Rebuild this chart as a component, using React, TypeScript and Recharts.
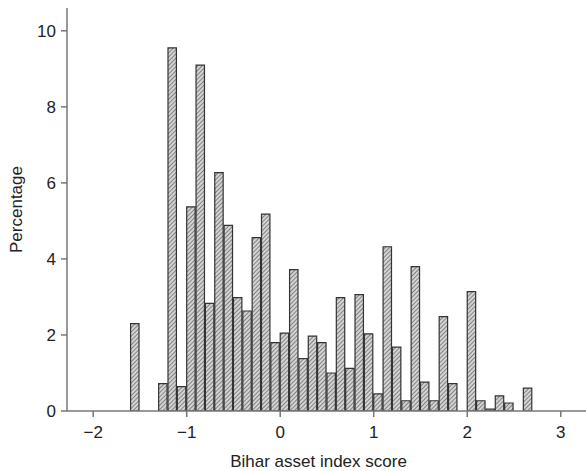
import { BarChart, Bar, XAxis, YAxis } from "recharts";

// bin left edges (width 0.1) and percentage per bin
const binStarts = [
    -1.6, -1.5, -1.4, -1.3, -1.2, -1.1, -1.0, -0.9, -0.8, -0.7, -0.6, -0.5, -0.4, -0.3, -0.2, -0.1,
    0.0, 0.1, 0.2, 0.3, 0.4, 0.5, 0.6, 0.7, 0.8, 0.9, 1.0, 1.1, 1.2, 1.3, 1.4, 1.5, 1.6, 1.7, 1.8,
    1.9, 2.0, 2.1, 2.2, 2.3, 2.4, 2.5, 2.6, 2.7,
];
const percentages = [
    2.3, 0, 0, 0.72, 9.55, 0.64, 5.37, 9.1, 2.83, 6.27, 4.88, 2.98, 2.63, 4.56, 5.18, 1.8,
    2.05, 3.72, 1.38, 1.97, 1.8, 1.0, 2.98, 1.12, 3.06, 2.03, 0.45, 4.32, 1.68, 0.27, 3.8, 0.76,
    0.27, 2.48, 0.72, 0, 3.14, 0.27, 0.05, 0.4, 0.21, 0, 0.6, 0,
];
const xTicks = [-2, -1, 0, 1, 2, 3];
const yTicks = [0, 2, 4, 6, 8, 10];

const binWidth = 0.1;
const data = binStarts.map((s, i) => ({ mid: s + binWidth / 2, pct: percentages[i] }));

const W = 586;
const H = 471;
const yAxisW = 67;
const xAxisH = 60;
const xDomain: [number, number] = [-2.28, 3.27];
const barPx = ((W - yAxisW) / (xDomain[1] - xDomain[0])) * binWidth;

const font = "'Liberation Sans', Arial, Helvetica, sans-serif";
const tickStyle = { fill: "#222", fontSize: 17, fontFamily: font };

export default function App() {
    return (
        <div style={{ width: W, height: H }}>
            <style>{`body{margin:0}`}</style>
            <BarChart width={W} height={H} data={data} margin={{ top: 8, right: 0, bottom: 0, left: 0 }} barGap={0} barCategoryGap={0}>
                <defs>
                    <pattern id="hatch" patternUnits="userSpaceOnUse" width="3" height="3" patternTransform="rotate(45)">
                        <rect width="3" height="3" fill="#d4d4d4" />
                        <line x1="0" y1="0" x2="0" y2="3" stroke="#4a4a4a" strokeWidth="1.2" />
                    </pattern>
                </defs>
                <XAxis
                    dataKey="mid"
                    type="number"
                    domain={xDomain}
                    ticks={xTicks}
                    allowDataOverflow
                    height={xAxisH}
                    tick={tickStyle}
                    tickFormatter={(v: number) => (v < 0 ? `\u2212${Math.abs(v)}` : `${v}`)}
                    tickSize={6}
                    tickMargin={9}
                    axisLine={{ stroke: "#777", strokeWidth: 1.5 }}
                    tickLine={{ stroke: "#777", strokeWidth: 1.5 }}
                    label={{ value: "Bihar asset index score", position: "insideBottom", offset: 4, dx: -8, fill: "#222", fontSize: 17, fontFamily: font }}
                />
                <YAxis
                    type="number"
                    domain={[0, 10.6]}
                    ticks={yTicks}
                    allowDataOverflow
                    width={yAxisW}
                    tick={tickStyle}
                    tickSize={6}
                    tickMargin={5}
                    axisLine={{ stroke: "#777", strokeWidth: 1.5 }}
                    tickLine={{ stroke: "#777", strokeWidth: 1.5 }}
                    label={{ value: "Percentage", angle: -90, position: "insideLeft", offset: 16, fill: "#222", fontSize: 17, fontFamily: font, style: { textAnchor: "middle" } }}
                />
                <Bar dataKey="pct" fill="url(#hatch)" stroke="#333" strokeWidth={1.2} barSize={barPx} isAnimationActive={false} />
            </BarChart>
        </div>
    );
}
